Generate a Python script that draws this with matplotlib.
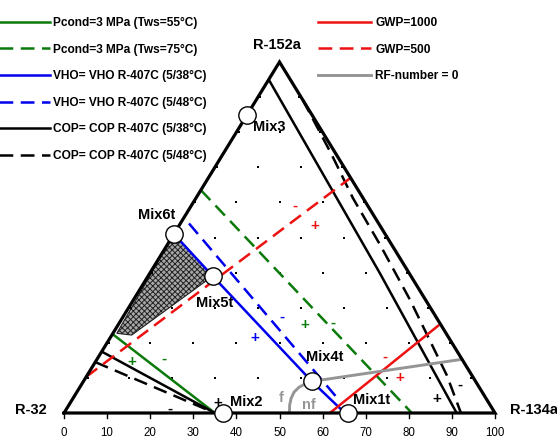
import matplotlib
matplotlib.use('Agg')
import matplotlib.pyplot as plt
import numpy as np
from matplotlib.lines import Line2D
from matplotlib.patches import Polygon

plt.rcParams['font.family'] = ['Liberation Sans', 'DejaVu Sans']
plt.rcParams['hatch.linewidth'] = 0.7

# ---------------- data (compositions in mass-%: R-32 / R-134a / R-152a) -------------
mix_names = ['Mix1t', 'Mix2', 'Mix3', 'Mix4t', 'Mix5t', 'Mix6t']
mix_r134a = [66, 37, 0, 53, 15, 0]
mix_r152a = [0, 0, 85, 9, 39, 51]

# curves: R-134a and R-152a shares (R-32 = remainder)
pcond55_r134a = [0, 35];            pcond55_r152a = [22.5, 0]
pcond75_r134a = [0, 80.7];          pcond75_r152a = [63.5, 0]
vho38_r134a = [0, 15, 53, 64.5];    vho38_r152a = [51, 39, 9, 0.5]
vho48_r134a = [2, 62.3];            vho48_r152a = [54, 3.4]
cop38_low_r134a = [0, 35];          cop38_low_r152a = [17.5, 0]
cop38_up_r134a = [0, 53.4, 91.1];   cop38_up_r152a = [95, 39.8, 0]
cop48_low_r134a = [0, 35];          cop48_low_r152a = [14.5, 0]
cop48_up_r134a = [10.8, 25.4, 36.4, 49.4, 64.2, 83.4, 92.1]
cop48_up_r152a = [89.2, 73.5, 61.25, 47.9, 32.2, 10.8, 0]
gwp1000_r134a = [61.7, 74.5];       gwp1000_r152a = [0, 25.1]
gwp500_r134a = [0, 33];             gwp500_r152a = [10.3, 67]
rf0_r134a = [53, 84.7];             rf0_r152a = [9, 15.3]
rf_fnf_r134a = [53, 51.85, 50.9, 50.4, 50.6, 51.25, 52.3]
rf_fnf_r152a = [9, 8.3, 7.4, 6.0, 4.2, 2.2, 0]
region_r134a = [0, 15, 4.6, 0.9]
region_r152a = [51, 39, 22.2, 22.7]

axis_ticks = [0, 10, 20, 30, 40, 50, 60, 70, 80, 90, 100]


def tern(r134a, r152a):
    b = np.asarray(r134a, float)
    c = np.asarray(r152a, float)
    return b + c / 2.0, c


fig = plt.figure(figsize=(5.57, 4.41), dpi=100)
ax = fig.add_axes([0, 0, 1, 1])
ax.set_xlim(-64 / 4.31, (557 - 64) / 4.31)
ax.set_ylim(-(441 - 413) / 3.51, 413 / 3.51)
ax.axis('off')

# interior grid dots
gb, gc = [], []
for c in range(10, 100, 10):
    for b in range(10, 100, 10):
        if 100 - b - c >= 10:
            gb.append(b); gc.append(c)
x, y = tern(gb, gc)
ax.plot(x, y, 's', color='black', ms=1.8, mew=0, zorder=1)

# hatched region
rx, ry = tern(region_r134a, region_r152a)
ax.add_patch(Polygon(np.column_stack([rx, ry]), closed=True, facecolor='#a8a8a8',
                     edgecolor='#222222', hatch='xxxxxx', lw=0.8, zorder=2))

dash = (5.5, 3.0)
LW = 1.8
GREEN = '#0b7a0b'; BLUE = '#0000ee'; RED = '#ee1111'; GRAY = '#959595'


def curve(b, c, color, lw, ls='-', z=3):
    x, y = tern(b, c)
    kw = dict(color=color, lw=lw, zorder=z, solid_capstyle='butt')
    if ls == '--':
        kw['dashes'] = dash
    ax.plot(x, y, **kw)


curve(pcond55_r134a, pcond55_r152a, GREEN, LW)
curve(pcond75_r134a, pcond75_r152a, GREEN, LW, '--')
curve(vho38_r134a, vho38_r152a, BLUE, LW)
curve(vho48_r134a, vho48_r152a, BLUE, LW, '--')
curve(cop38_low_r134a, cop38_low_r152a, 'black', LW)
curve(cop38_up_r134a, cop38_up_r152a, 'black', LW)
curve(cop48_low_r134a, cop48_low_r152a, 'black', LW, '--')
curve(cop48_up_r134a, cop48_up_r152a, 'black', LW, '--')
curve(gwp1000_r134a, gwp1000_r152a, RED, LW)
curve(gwp500_r134a, gwp500_r152a, RED, LW, '--')
curve(rf0_r134a, rf0_r152a, GRAY, 2.1)
curve(rf_fnf_r134a, rf_fnf_r152a, GRAY, 2.1)

# triangle
tx, ty = tern([0, 100, 0, 0], [0, 0, 100, 0])
ax.plot(tx, ty, color='black', lw=2.3, zorder=4, solid_joinstyle='miter')

# bottom ticks & labels
for t in axis_ticks:
    ax.plot([t, t], [0, -1.3], color='black', lw=1.0, zorder=4)
    ax.text(t, -5.6, str(t), ha='center', va='center', fontsize=8.3)
# small tick marks on side edges
side = [10, 20, 30, 40, 50, 60, 70, 80, 90]
lx, ly = tern([0] * 9, side)
ax.plot(lx + 0.5, ly, 's', color='black', ms=1.6, mew=0, zorder=4)
rx2, ry2 = tern([100 - s for s in side], side)
ax.plot(rx2 - 0.5, ry2, 's', color='black', ms=1.6, mew=0, zorder=4)

# mixtures
mx, my = tern(mix_r134a, mix_r152a)
ax.plot(mx, my, 'o', ms=12.5, mfc='white', mec='black', mew=1.0, zorder=6)

lab = dict(fontsize=10.5, fontweight='bold', va='center', zorder=7)
ax.text(-7.7, 0.9, 'R-32', ha='center', **lab)
ax.text(103.5, 0.9, 'R-134a', ha='left', **lab)
ax.text(49.4, 104.8, 'R-152a', ha='center', **lab)
ax.text(43.9, 81.5, 'Mix3', ha='left', **lab)
ax.text(21.5, 56.4, 'Mix6t', ha='center', **lab)
ax.text(35.0, 31.2, 'Mix5t', ha='center', **lab)
ax.text(60.6, 16.0, 'Mix4t', ha='center', **lab)
ax.text(38.5, 3.2, 'Mix2', ha='left', **lab)
ax.text(67.1, 3.7, 'Mix1t', ha='left', **lab)
ax.text(50.5, 4.3, 'f', ha='center', color=GRAY, **lab)
ax.text(56.7, 2.3, 'nf', ha='center', color=GRAY, **lab)

signs = [('+', GREEN, 15.8, 14.4), ('-', GREEN, 23.3, 15.6),
         ('-', 'black', 24.6, 1.3), ('+', 'black', 35.8, 2.9),
         ('+', GREEN, 55.9, 25.1), ('-', GREEN, 62.5, 25.6),
         ('-', BLUE, 50.5, 27.4), ('+', BLUE, 44.3, 21.5),
         ('-', RED, 74.5, 16.0), ('+', RED, 78.0, 9.9),
         ('+', 'black', 86.5, 4.0), ('-', 'black', 91.9, 8.0),
         ('-', RED, 53.6, 59.0), ('+', RED, 58.2, 53.3)]
for s, col, sx, sy in signs:
    ax.text(sx, sy, s, color=col, fontsize=11, fontweight='bold',
            ha='center', va='center', zorder=7)

# legends
h_left = [Line2D([], [], color=GREEN, lw=LW),
          Line2D([], [], color=GREEN, lw=LW, dashes=dash),
          Line2D([], [], color=BLUE, lw=LW),
          Line2D([], [], color=BLUE, lw=LW, dashes=dash),
          Line2D([], [], color='black', lw=LW),
          Line2D([], [], color='black', lw=LW, dashes=dash)]
l_left = ['Pcond=3 MPa (Tws=55°C)', 'Pcond=3 MPa (Tws=75°C)',
          'VHO= VHO R-407C (5/38°C)', 'VHO= VHO R-407C (5/48°C)',
          'COP= COP R-407C (5/38°C)', 'COP= COP R-407C (5/48°C)']
h_right = [Line2D([], [], color=RED, lw=LW),
           Line2D([], [], color=RED, lw=LW, dashes=dash),
           Line2D([], [], color=GRAY, lw=2.1)]
l_right = ['GWP=1000', 'GWP=500', 'RF-number = 0']

lp = dict(frameon=False, prop={'weight': 'bold', 'size': 8.6}, borderpad=0,
          borderaxespad=0, labelspacing=1.22, loc='upper left')
leg1 = fig.legend(h_left, l_left, bbox_to_anchor=(-0.002, 1 - 17.0 / 441),
                  handlelength=4.3, handletextpad=0.25, **lp)
leg2 = fig.legend(h_right, l_right, bbox_to_anchor=(318 / 557, 1 - 17.0 / 441),
                  handlelength=4.4, handletextpad=0.4, **lp)

fig.savefig('out.png', dpi=100)
